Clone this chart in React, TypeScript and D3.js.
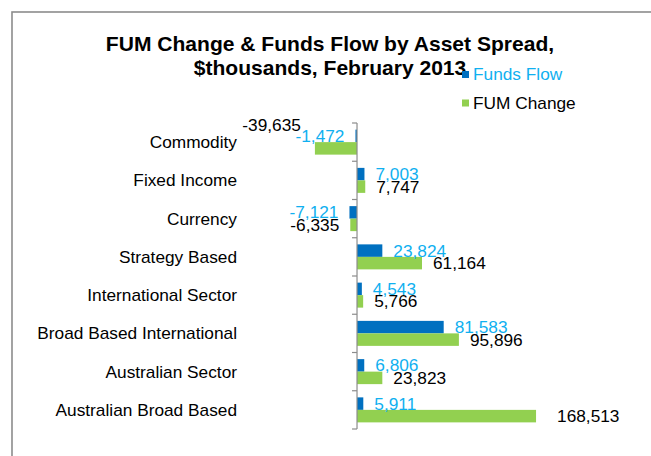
import React from "react";
import * as d3 from "d3";

const categories = [
  "Commodity",
  "Fixed Income",
  "Currency",
  "Strategy Based",
  "International Sector",
  "Broad Based International",
  "Australian Sector",
  "Australian Broad Based",
];
const fundsFlow = [-1472, 7003, -7121, 23824, 4543, 81583, 6806, 5911];
const fumChange = [-39635, 7747, -6335, 61164, 5766, 95896, 23823, 168513];
const seriesNames = ["Funds Flow", "FUM Change"];
const titleLines = ["FUM Change & Funds Flow by Asset Spread,", "$thousands, February 2013"];

const W = 651;
const H = 456;
const FONT = "'Liberation Sans', Arial, sans-serif";
const BLUE = "#0070c0";
const GREEN = "#92d050";
const LABEL_BLUE = "#10b0f0";
const AXIS = "#8c8c8c";
const SX = 1.08;

// manual label nudges (as in the original chart)
const fumLabelNudge: Record<number, [number, number]> = { 0: [-3, -23], 7: [10, 0] };

type TxtProps = {
  x: number;
  y: number;
  anchor?: "start" | "middle" | "end";
  size?: number;
  bold?: boolean;
  fill?: string;
  children: React.ReactNode;
};

function Txt({ x, y, anchor = "start", size = 16, bold = false, fill = "#000", children }: TxtProps) {
  return (
    <text
      transform={`translate(${x},${y}) scale(${SX},1)`}
      textAnchor={anchor}
      fontSize={size}
      fontWeight={bold ? "bold" : "normal"}
      fontFamily={FONT}
      fill={fill}
    >
      {children}
    </text>
  );
}

export default function App() {
  const x = d3.scaleLinear().domain([-50000, 200000]).range([303.9, 569.5]);
  const y = d3.scaleBand<string>().domain(categories).range([123, 429]).padding(0);
  const sub = d3
    .scaleBand<string>()
    .domain(seriesNames)
    .range([0, y.step()])
    .paddingInner(0)
    .paddingOuter(0.53);
  const x0 = x(0);
  const fmt = (v: number) => d3.format(",")(v).replace("\u2212", "-");
  const gap = 11;

  const boundaries = categories.map((c) => y(c)!).concat([y.range()[1]]);

  const labelFor = (v: number, cy: number, color: string, nudge: [number, number] = [0, 0]) => {
    const xe = x(v);
    const pos = v >= 0;
    return (
      <Txt
        x={(pos ? xe + gap : xe - gap) + nudge[0]}
        y={cy + 6 + nudge[1]}
        anchor={pos ? "start" : "end"}
        fill={color}
      >
        {fmt(v)}
      </Txt>
    );
  };

  return (
    <svg
      width={W}
      height={H}
      style={{ position: "absolute", left: 0, top: 0, background: "#fff" }}
    >
      <rect x={12} y={12} width={700} height={500} fill="#fff" stroke={AXIS} strokeWidth={1.6} />

      {titleLines.map((t, i) => (
        <Txt key={t} x={330} y={51 + i * 24} anchor="middle" size={19.5} bold>
          {t}
        </Txt>
      ))}

      {/* legend */}
      {seriesNames.map((s, i) => (
        <g key={s} transform={`translate(462, ${71 + i * 28.5})`}>
          <rect x={0} y={0} width={7} height={7} fill={i === 0 ? BLUE : GREEN} />
          <Txt x={11} y={9} fill={i === 0 ? LABEL_BLUE : "#000"}>
            {s}
          </Txt>
        </g>
      ))}

      {/* bars */}
      {categories.map((c, i) => {
        const by = y(c)!;
        const yb = by + sub(seriesNames[0])!;
        const yg = by + sub(seriesNames[1])!;
        const bw = sub.bandwidth();
        const f = fundsFlow[i];
        const g = fumChange[i];
        return (
          <g key={c}>
            <rect x={Math.min(x(f), x0)} y={yb} width={Math.abs(x(f) - x0)} height={bw} fill={BLUE} />
            <rect x={Math.min(x(g), x0)} y={yg} width={Math.abs(x(g) - x0)} height={bw} fill={GREEN} />
            {labelFor(f, yb + bw / 2, LABEL_BLUE)}
            {labelFor(g, yg + bw / 2, "#000", fumLabelNudge[i])}
            <Txt x={237} y={by + y.step() / 2 + 6} anchor="end">
              {c}
            </Txt>
          </g>
        );
      })}

      {/* axis */}
      <line x1={x0} x2={x0} y1={y.range()[0]} y2={y.range()[1]} stroke={AXIS} strokeWidth={1.2} />
      {boundaries.map((b, i) => (
        <line key={i} x1={x0 - 5} x2={x0} y1={b} y2={b} stroke={AXIS} strokeWidth={1.2} />
      ))}
    </svg>
  );
}
